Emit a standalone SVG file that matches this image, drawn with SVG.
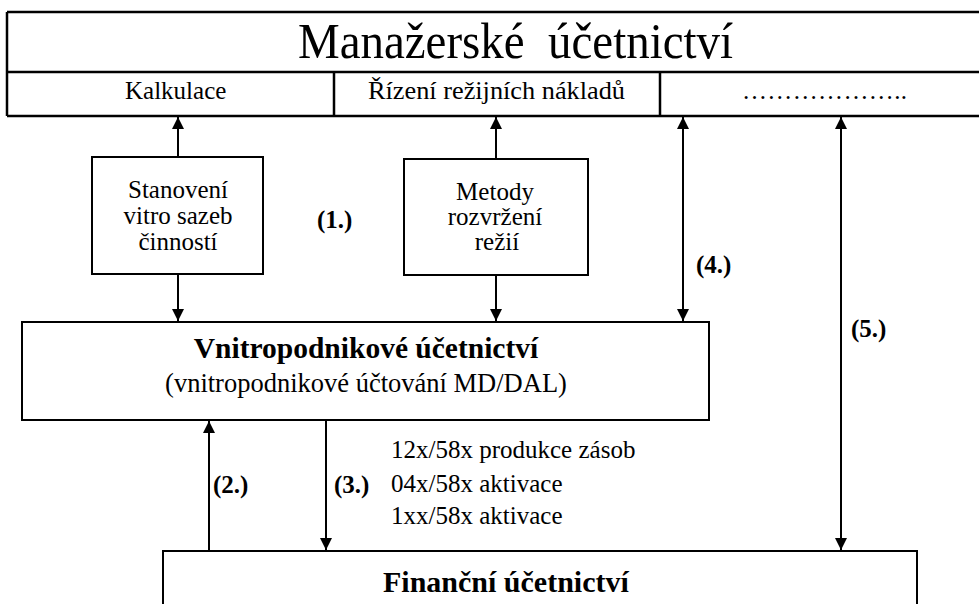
<svg xmlns="http://www.w3.org/2000/svg" width="979" height="604" viewBox="0 0 979 604">
<defs>
<style>
text{font-family:'Liberation Serif','DejaVu Serif',serif;fill:#000}
.b{font-weight:bold}
.box{fill:#fff;stroke:#000;stroke-width:2}
.ln{stroke:#000;stroke-width:2.5;fill:none}
.c{stroke:#000;stroke-width:2;fill:none}
</style>
<marker id="ah" markerUnits="userSpaceOnUse" viewBox="0 0 12 12" markerWidth="12" markerHeight="12" refX="12" refY="6" orient="auto-start-reverse">
<path d="M0,0 L12,6 L0,12 z" fill="#000"/>
</marker>
</defs>
<rect width="979" height="604" fill="#fff"/>

<g id="manazerske" font-family="Liberation Serif, serif">
<path class="ln" d="M7,12 H979 M7,72 H979 M7,116 H979 M7,12 V116 M334,72 V116 M660,72 V116"/>
<text x="298" y="58" font-size="50" textLength="435" lengthAdjust="spacingAndGlyphs" xml:space="preserve">Manažerské  účetnictví</text>
<text x="125" y="99" font-size="25">Kalkulace</text>
<text x="368" y="99" font-size="25" textLength="257" lengthAdjust="spacingAndGlyphs">Řízení režijních nákladů</text>
<text x="742" y="99" font-size="25" textLength="165" lengthAdjust="spacing">………………..</text>
</g>

<g id="stanoveni" font-family="Liberation Serif, serif">
<rect class="box" x="92" y="157" width="171" height="117"/>
<text font-size="25" text-anchor="middle"><tspan x="178" y="198">Stanovení</tspan><tspan x="178" y="224">vitro sazeb</tspan><tspan x="178" y="250">činností</tspan></text>
</g>

<g id="metody" font-family="Liberation Serif, serif">
<rect class="box" x="404" y="159" width="184" height="116"/>
<text font-size="25" text-anchor="middle"><tspan x="495" y="200">Metody</tspan><tspan x="495" y="225">rozvržení</tspan><tspan x="497" y="250">režií</tspan></text>
</g>

<g id="vnitropodnikove" font-family="Liberation Serif, serif">
<rect class="box" x="22" y="322" width="687" height="98"/>
<text class="b" x="366" y="358" font-size="29.5" text-anchor="middle">Vnitropodnikové účetnictví</text>
<text x="366" y="392" font-size="26.5" text-anchor="middle">(vnitropodnikové účtování MD/DAL)</text>
</g>

<g id="financni" font-family="Liberation Serif, serif">
<rect class="box" x="163" y="551" width="754" height="80"/>
<text class="b" x="383" y="592" font-size="30">Finanční účetnictví</text>
</g>

<g id="connectors">
<line class="c" x1="178" y1="157" x2="178" y2="117" marker-end="url(#ah)"/>
<line class="c" x1="178" y1="274" x2="178" y2="321" marker-end="url(#ah)"/>
<line class="c" x1="496" y1="159" x2="496" y2="117" marker-end="url(#ah)"/>
<line class="c" x1="496" y1="275" x2="496" y2="321" marker-end="url(#ah)"/>
<line class="c" x1="683" y1="117" x2="683" y2="321" marker-start="url(#ah)" marker-end="url(#ah)"/>
<line class="c" x1="841" y1="117" x2="841" y2="550" marker-start="url(#ah)" marker-end="url(#ah)"/>
<line class="c" x1="209" y1="550" x2="209" y2="421" marker-end="url(#ah)"/>
<line class="c" x1="326" y1="421" x2="326" y2="550" marker-end="url(#ah)"/>
</g>

<g id="labels" font-family="Liberation Serif, serif">
<text class="b" x="317" y="228" font-size="25">(1.)</text>
<text class="b" x="696" y="273" font-size="25">(4.)</text>
<text class="b" x="851" y="337" font-size="25">(5.)</text>
<text class="b" x="213" y="493" font-size="25">(2.)</text>
<text class="b" x="334" y="493" font-size="25">(3.)</text>
<text font-size="25"><tspan x="391" y="458">12x/58x produkce zásob</tspan><tspan x="391" y="492">04x/58x aktivace</tspan><tspan x="391" y="524">1xx/58x aktivace</tspan></text>
</g>
</svg>
